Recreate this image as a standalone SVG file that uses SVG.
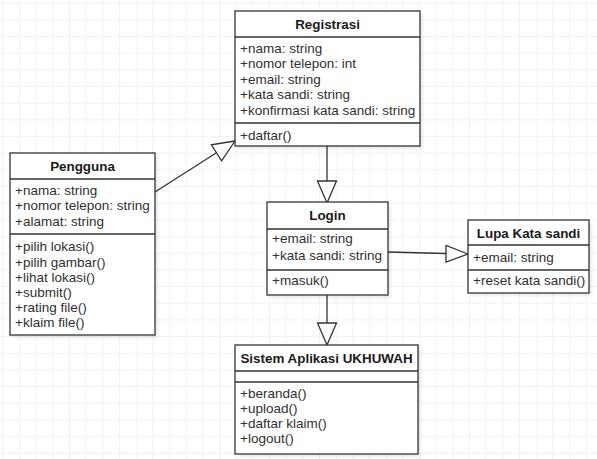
<svg xmlns="http://www.w3.org/2000/svg" width="597" height="459" viewBox="0 0 597 459">
  <style>
    .box { fill: #ffffff; stroke: #333333; stroke-width: 1.3; }
    .sep { stroke: #333333; stroke-width: 1.3; }
    .shadow { fill: #000000; opacity: 0.08; filter: url(#soft); }
    .title { font-family: "Liberation Sans", Arial, sans-serif; font-size: 13.4px; font-weight: bold; fill: #1a1a1a; text-anchor: middle; }
    .item { font-family: "Liberation Sans", Arial, sans-serif; font-size: 13.5px; fill: #2f2f2f; }
    .edge { fill: none; stroke: #333333; stroke-width: 1.3; }
    .head { fill: #ffffff; stroke: #333333; stroke-width: 1.3; stroke-linejoin: miter; }
  </style>
  <defs>
    <pattern id="grid" x="2.3" y="2.7" width="16.67" height="16.67" patternUnits="userSpaceOnUse">
      <path d="M 0 0 H 16.67 M 0 0 V 16.67" fill="none" stroke="#ededed" stroke-width="1.4"/>
    </pattern>
    <filter id="soft" x="-10%" y="-10%" width="120%" height="120%">
      <feGaussianBlur stdDeviation="1.5"/>
    </filter>
  </defs>

  <!-- canvas -->
  <rect x="0" y="0" width="597" height="459" fill="#ffffff"/>
  <rect x="0" y="0" width="597" height="459" fill="url(#grid)"/>

  <!-- generalization connectors -->
  <g id="connectors">
    <!-- Pengguna -> Registrasi -->
    <line class="edge" x1="155" y1="192" x2="216.5" y2="152.8"/>
    <polygon class="head" points="235,141 221.6,160.8 211.4,144.8"/>
    <!-- Registrasi -> Login -->
    <line class="edge" x1="327" y1="146" x2="327" y2="181"/>
    <polygon class="head" points="327,203 317.5,181 336.5,181"/>
    <!-- Login -> Lupa Kata sandi -->
    <line class="edge" x1="388" y1="252" x2="446" y2="253.5"/>
    <polygon class="head" points="468,254 446,245.5 446,262"/>
    <!-- Login -> Sistem Aplikasi UKHUWAH -->
    <line class="edge" x1="327" y1="295" x2="327" y2="323"/>
    <polygon class="head" points="327,345 317.5,323 336.5,323"/>
  </g>

  <!-- Registrasi -->
  <g id="registrasi">
    <rect class="shadow" x="238" y="14" width="185" height="135"/>
    <rect class="box" x="235" y="11" width="185" height="135"/>
    <line class="sep" x1="235" y1="37" x2="420" y2="37"/>
    <line class="sep" x1="235" y1="123" x2="420" y2="123"/>
    <text class="title" x="327.5" y="28.5">Registrasi</text>
    <text class="item" x="240" y="52.5">+nama: string</text>
    <text class="item" x="240" y="68">+nomor telepon: int</text>
    <text class="item" x="240" y="83.5">+email: string</text>
    <text class="item" x="240" y="99">+kata sandi: string</text>
    <text class="item" x="240" y="114.5">+konfirmasi kata sandi: string</text>
    <text class="item" x="240" y="139.5">+daftar()</text>
  </g>

  <!-- Pengguna -->
  <g id="pengguna">
    <rect class="shadow" x="13" y="156" width="145" height="182"/>
    <rect class="box" x="10" y="153" width="145" height="182"/>
    <line class="sep" x1="10" y1="179" x2="155" y2="179"/>
    <line class="sep" x1="10" y1="234" x2="155" y2="234"/>
    <text class="title" x="82.5" y="170.5">Pengguna</text>
    <text class="item" x="15" y="194.5">+nama: string</text>
    <text class="item" x="15" y="210">+nomor telepon: string</text>
    <text class="item" x="15" y="225.5">+alamat: string</text>
    <text class="item" x="15" y="251">+pilih lokasi()</text>
    <text class="item" x="15" y="266.5">+pilih gambar()</text>
    <text class="item" x="15" y="281.5">+lihat lokasi()</text>
    <text class="item" x="15" y="296.5">+submit()</text>
    <text class="item" x="15" y="311.5">+rating file()</text>
    <text class="item" x="15" y="326.5">+klaim file()</text>
  </g>

  <!-- Login -->
  <g id="login">
    <rect class="shadow" x="270" y="205" width="121" height="93"/>
    <rect class="box" x="267" y="202" width="121" height="93"/>
    <line class="sep" x1="267" y1="229" x2="388" y2="229"/>
    <line class="sep" x1="267" y1="270" x2="388" y2="270"/>
    <text class="title" x="327.5" y="220">Login</text>
    <text class="item" x="272" y="243">+email: string</text>
    <text class="item" x="272" y="260">+kata sandi: string</text>
    <text class="item" x="272" y="284.5">+masuk()</text>
  </g>

  <!-- Lupa Kata sandi -->
  <g id="lupa-kata-sandi">
    <rect class="shadow" x="471" y="223" width="121" height="73"/>
    <rect class="box" x="468" y="220" width="121" height="73"/>
    <line class="sep" x1="468" y1="245" x2="589" y2="245"/>
    <line class="sep" x1="468" y1="270" x2="589" y2="270"/>
    <text class="title" x="528.5" y="237.5">Lupa Kata sandi</text>
    <text class="item" x="473" y="261.5">+email: string</text>
    <text class="item" x="473" y="285">+reset kata sandi()</text>
  </g>

  <!-- Sistem Aplikasi UKHUWAH -->
  <g id="sistem-aplikasi-ukhuwah">
    <rect class="shadow" x="238" y="348" width="183" height="109"/>
    <rect class="box" x="235" y="345" width="183" height="109"/>
    <line class="sep" x1="235" y1="371" x2="418" y2="371"/>
    <line class="sep" x1="235" y1="382" x2="418" y2="382"/>
    <text class="title" x="326.5" y="362.5">Sistem Aplikasi UKHUWAH</text>
    <text class="item" x="240" y="397.5">+beranda()</text>
    <text class="item" x="240" y="412.5">+upload()</text>
    <text class="item" x="240" y="427.5">+daftar klaim()</text>
    <text class="item" x="240" y="442.5">+logout()</text>
  </g>
</svg>
